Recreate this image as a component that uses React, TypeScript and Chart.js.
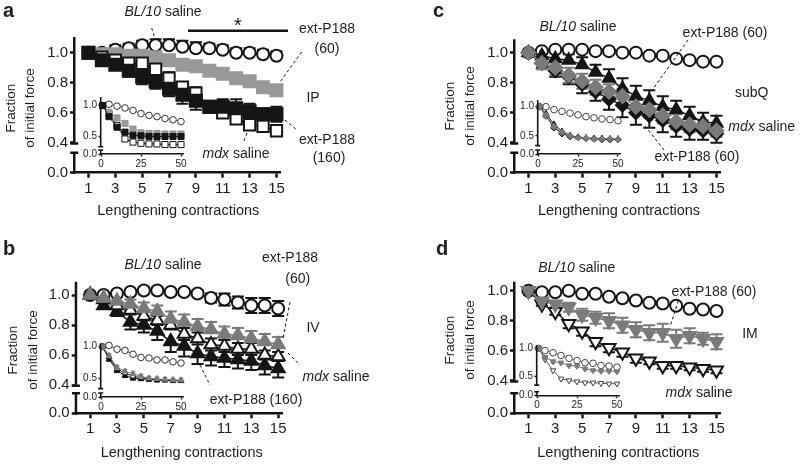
import React, { useEffect, useRef } from 'react';
import { Chart, registerables } from 'chart.js';

Chart.register(...registerables);

const FONT = '"Liberation Sans", Arial, Helvetica, sans-serif';
const INK = '#151515';
const TEXT = '#1e1e1e';

// ---------- shared axes ----------
const contractions = [1, 2, 3, 4, 5, 6, 7, 8, 9, 10, 11, 12, 13, 14, 15];
const xTickValues = [1, 3, 5, 7, 9, 11, 13, 15];
const yTickValues = [0.4, 0.6, 0.8, 1.0];
const zeroTick = [0];
const insetContractions = [1, 5, 10, 15, 20, 25, 30, 35, 40, 45, 50];
const insetXTickValues = [0, 25, 50];
const insetYTickValues = [0.5, 1.0];

// ---------- panel a (IP) ----------
const aBL10 = [1.0, 1.0, 1.02, 1.03, 1.05, 1.05, 1.05, 1.04, 1.03, 1.03, 1.02, 1.0, 1.0, 0.99, 0.98];
const aBL10Err = [0, 0.02, 0.03, 0.03, 0.03, 0.04, 0.04, 0.04, 0.04, 0.03, 0.03, 0.03, 0.03, 0.03, 0.03];
const aP60 = [1.0, 0.99, 0.99, 0.98, 0.98, 0.97, 0.95, 0.92, 0.91, 0.88, 0.86, 0.83, 0.81, 0.77, 0.75];
const aP60Err = [0, 0.01, 0.01, 0.01, 0.01, 0.01, 0.01, 0.01, 0.01, 0.01, 0.01, 0.01, 0.01, 0.01, 0.01];
const aP160 = [1.0, 0.95, 0.92, 0.88, 0.84, 0.81, 0.76, 0.72, 0.68, 0.64, 0.64, 0.63, 0.61, 0.59, 0.59];
const aP160Err = [0, 0.02, 0.03, 0.04, 0.05, 0.05, 0.05, 0.06, 0.06, 0.04, 0.05, 0.06, 0.05, 0.04, 0.05];
const aMdx = [1.0, 0.97, 0.95, 0.93, 0.93, 0.89, 0.83, 0.77, 0.73, 0.64, 0.6, 0.56, 0.52, 0.51, 0.48];
const aMdxErr = [0, 0.02, 0.02, 0.03, 0.03, 0.03, 0.04, 0.03, 0.04, 0.03, 0.03, 0.03, 0.03, 0.02, 0.02];
const iaBL10 = [1.0, 1.02, 0.99, 0.96, 0.92, 0.87, 0.84, 0.82, 0.79, 0.77, 0.74];
const iaBL10Err = [0, 0.02, 0.02, 0.02, 0.02, 0.02, 0.02, 0.02, 0.02, 0.02, 0.02];
const iaP60 = [1.0, 0.89, 0.8, 0.71, 0.62, 0.56, 0.55, 0.55, 0.54, 0.54, 0.54];
const iaP160 = [1.0, 0.82, 0.65, 0.57, 0.52, 0.51, 0.5, 0.5, 0.5, 0.5, 0.5];
const iaMdx = [1.0, 0.86, 0.68, 0.46, 0.41, 0.39, 0.38, 0.38, 0.37, 0.37, 0.37];

// ---------- panel b (IV) ----------
const bBL10 = [1.0, 1.0, 1.01, 1.02, 1.03, 1.03, 1.02, 1.02, 1.01, 0.98, 0.97, 0.95, 0.93, 0.93, 0.91];
const bBL10Err = [0, 0.01, 0.01, 0.01, 0.02, 0.02, 0.02, 0.02, 0.02, 0.03, 0.04, 0.04, 0.05, 0.05, 0.05];
const bP60 = [1.0, 0.98, 0.96, 0.94, 0.91, 0.89, 0.84, 0.82, 0.79, 0.77, 0.74, 0.73, 0.71, 0.69, 0.67];
const bP60Err = [0, 0.02, 0.03, 0.03, 0.04, 0.04, 0.05, 0.05, 0.05, 0.05, 0.05, 0.05, 0.05, 0.05, 0.05];
const bMdx = [1.0, 0.97, 0.93, 0.9, 0.86, 0.83, 0.8, 0.74, 0.71, 0.67, 0.66, 0.64, 0.64, 0.6, 0.59];
const bMdxErr = [0, 0.02, 0.02, 0.03, 0.03, 0.03, 0.03, 0.04, 0.04, 0.04, 0.04, 0.04, 0.04, 0.03, 0.03];
const bP160 = [1.0, 0.93, 0.89, 0.82, 0.8, 0.76, 0.69, 0.66, 0.61, 0.59, 0.58, 0.57, 0.56, 0.53, 0.51];
const bP160Err = [0, 0.02, 0.03, 0.05, 0.05, 0.06, 0.07, 0.07, 0.07, 0.06, 0.06, 0.06, 0.06, 0.06, 0.06];
const ibBL10 = [1.0, 1.02, 0.96, 0.94, 0.88, 0.83, 0.82, 0.79, 0.79, 0.76, 0.74];
const ibBL10Err = [0, 0.02, 0.02, 0.02, 0.02, 0.02, 0.02, 0.02, 0.02, 0.02, 0.02];
const ibP60 = [1.0, 0.86, 0.67, 0.61, 0.57, 0.53, 0.5, 0.49, 0.48, 0.47, 0.47];
const ibMdx = [1.0, 0.84, 0.65, 0.58, 0.53, 0.51, 0.49, 0.48, 0.47, 0.47, 0.46];
const ibP160 = [1.0, 0.8, 0.62, 0.54, 0.5, 0.49, 0.48, 0.47, 0.47, 0.46, 0.46];
const ibErr = [0, 0.03, 0.03, 0.03, 0.03, 0.03, 0.03, 0.03, 0.03, 0.03, 0.03];

// ---------- panel c (subQ) ----------
const cBL10 = [1.0, 1.01, 1.02, 1.02, 1.02, 1.01, 1.01, 1.0, 1.0, 0.98, 0.98, 0.96, 0.95, 0.94, 0.94];
const cP60a = [1.0, 0.98, 0.96, 0.95, 0.92, 0.87, 0.83, 0.76, 0.71, 0.68, 0.64, 0.62, 0.58, 0.54, 0.53];
const cP60aErr = [0, 0.03, 0.04, 0.04, 0.05, 0.05, 0.06, 0.07, 0.07, 0.07, 0.07, 0.06, 0.06, 0.06, 0.05];
const cP60b = [1.0, 0.93, 0.9, 0.85, 0.81, 0.77, 0.74, 0.71, 0.64, 0.62, 0.58, 0.54, 0.52, 0.51, 0.48];
const cP60bErr = [0, 0.04, 0.05, 0.05, 0.05, 0.05, 0.05, 0.05, 0.05, 0.05, 0.05, 0.05, 0.05, 0.04, 0.04];
const cMdx = [1.0, 0.93, 0.88, 0.84, 0.79, 0.74, 0.69, 0.65, 0.6, 0.58, 0.55, 0.51, 0.49, 0.48, 0.46];
const cMdxErr = [0, 0.03, 0.04, 0.05, 0.06, 0.06, 0.07, 0.08, 0.08, 0.08, 0.08, 0.07, 0.07, 0.06, 0.06];
const icBL10 = [1.0, 1.0, 0.95, 0.92, 0.89, 0.86, 0.83, 0.81, 0.79, 0.78, 0.76];
const icP60a = [1.0, 0.88, 0.7, 0.58, 0.51, 0.48, 0.47, 0.46, 0.46, 0.45, 0.45];
const icP60b = [1.0, 0.85, 0.66, 0.56, 0.5, 0.47, 0.46, 0.45, 0.45, 0.45, 0.44];
const icMdx = [1.0, 0.84, 0.64, 0.54, 0.49, 0.47, 0.46, 0.45, 0.44, 0.44, 0.44];
const icErr = [0, 0.03, 0.04, 0.03, 0.02, 0.02, 0.02, 0.02, 0.02, 0.02, 0.02];

// ---------- panel d (IM) ----------
const dBL10 = [1.0, 0.99, 0.99, 1.0, 0.98, 0.98, 0.96, 0.95, 0.935, 0.92, 0.915, 0.9, 0.88, 0.875, 0.865];
const dP60 = [1.0, 0.93, 0.91, 0.89, 0.84, 0.82, 0.8, 0.77, 0.74, 0.72, 0.72, 0.68, 0.7, 0.68, 0.66];
const dP60Err = [0, 0.01, 0.02, 0.03, 0.04, 0.04, 0.05, 0.05, 0.05, 0.05, 0.06, 0.06, 0.05, 0.04, 0.05];
const dMdx = [1.0, 0.91, 0.86, 0.78, 0.73, 0.66, 0.62, 0.59, 0.55, 0.53, 0.5, 0.5, 0.49, 0.48, 0.47];
const dMdxErr = [0, 0.01, 0.02, 0.03, 0.03, 0.03, 0.03, 0.03, 0.03, 0.02, 0.02, 0.02, 0.02, 0.02, 0.02];
const idBL10 = [1.0, 0.96, 0.92, 0.87, 0.82, 0.78, 0.74, 0.73, 0.69, 0.68, 0.66];
const idP60 = [1.0, 0.84, 0.76, 0.74, 0.69, 0.68, 0.63, 0.6, 0.59, 0.59, 0.58];
const idP60Err = [0, 0.03, 0.03, 0.02, 0.02, 0.02, 0.02, 0.02, 0.02, 0.02, 0.02];
const idMdx = [1.0, 0.8, 0.6, 0.45, 0.42, 0.4, 0.38, 0.38, 0.37, 0.36, 0.36];

// ---------- marker styles ----------
const big = (shape: string, fill: string, stroke: string, r: number, line: string, err: string, errColor: string, rot = 0) =>
  ({ shape, fill, stroke, r, bw: 2, line, lw: 1.5, err, errColor, cap: 6, ew: 2, rot });
const small = (shape: string, fill: string, stroke: string, line: string, err: string, errColor: string, rot = 0) =>
  ({ shape, fill, stroke, r: shape === 'rect' ? 4.3 : 3.3, bw: 1, line, lw: 1, err, errColor, cap: 2.5, ew: 1, rot });

const S = (xs: number[], ys: number[], errs: number[] | null, st: any) => ({ xs, ys, errs, st });

function toDataset(s: any) {
  const st = s.st;
  return {
    data: s.xs.map((x: number, i: number) => ({ x, y: s.ys[i] })),
    errs: s.errs,
    st,
    xAxisID: 'x',
    yAxisID: 'y',
    showLine: true,
    borderColor: st.line,
    borderWidth: st.lw,
    tension: 0,
    fill: false,
    pointStyle: st.shape,
    pointRotation: st.rot,
    pointRadius: st.r,
    pointHoverRadius: st.r,
    pointBackgroundColor: st.fill,
    pointBorderColor: st.stroke,
    pointBorderWidth: st.bw,
    clip: false,
  };
}

function drawErrors(chart: any) {
  const ctx = chart.ctx;
  const xs = chart.scales.x;
  const ys = chart.scales.y;
  const sets = chart.data.datasets;
  for (let di = sets.length - 1; di >= 0; di--) {
    const d = sets[di];
    const st = d.st;
    if (!d.errs || st.err === 'none') continue;
    ctx.save();
    ctx.strokeStyle = st.errColor;
    ctx.lineWidth = st.ew;
    ctx.beginPath();
    d.data.forEach((p: any, i: number) => {
      const e = d.errs[i];
      if (!e) return;
      const px = xs.getPixelForValue(p.x);
      const py = ys.getPixelForValue(p.y);
      const ends: number[] = [];
      if (st.err !== 'down') ends.push(ys.getPixelForValue(p.y + e));
      if (st.err !== 'up') ends.push(ys.getPixelForValue(p.y - e));
      for (const ey of ends) {
        ctx.moveTo(px, py);
        ctx.lineTo(px, ey);
        ctx.moveTo(px - st.cap, ey);
        ctx.lineTo(px + st.cap, ey);
      }
    });
    ctx.stroke();
    ctx.restore();
  }
}

function drawDecor(chart: any, p: any, k: any, ox: number, oy: number) {
  const ctx = chart.ctx;
  const area = chart.chartArea;
  const yT = chart.scales.y;
  ctx.save();
  ctx.strokeStyle = INK;
  ctx.lineWidth = k.axisW;
  ctx.lineCap = 'butt';
  const ax = area.left - k.axisW / 2 + 0.5;
  const upBot = yT.getPixelForValue(k.breakUpper);
  const loTop = area.bottom - k.lowSegPx;
  ctx.beginPath();
  ctx.moveTo(ax, area.top);
  ctx.lineTo(ax, upBot);
  ctx.moveTo(ax - k.capHalf, upBot);
  ctx.lineTo(ax + k.capHalf, upBot);
  ctx.moveTo(ax, loTop);
  ctx.lineTo(ax, area.bottom + k.axisW / 2);
  ctx.moveTo(ax - k.capHalf, loTop);
  ctx.lineTo(ax + k.capHalf, loTop);
  ctx.stroke();
  ctx.restore();

  for (const sg of p.segs || []) {
    ctx.save();
    ctx.strokeStyle = INK;
    ctx.lineWidth = sg.w || 1;
    if (sg.dash) ctx.setLineDash([3, 2.5]);
    ctx.beginPath();
    ctx.moveTo(sg.x1 - ox, sg.y1 - oy);
    ctx.lineTo(sg.x2 - ox, sg.y2 - oy);
    ctx.stroke();
    ctx.restore();
  }
  for (const t of p.texts || []) {
    ctx.save();
    ctx.fillStyle = TEXT;
    const size = t.size || 14;
    const fontOf = (it: boolean) => `${it ? 'italic ' : ''}${t.bold ? 'bold ' : ''}${size}px ${FONT}`;
    let total = 0;
    const widths = t.parts.map((pt: any) => {
      ctx.font = fontOf(!!pt[1]);
      const w = ctx.measureText(pt[0]).width;
      total += w;
      return w;
    });
    ctx.textBaseline = t.base || 'middle';
    ctx.textAlign = 'left';
    ctx.translate(t.x - ox, t.y - oy);
    if (t.rot) ctx.rotate(-Math.PI / 2);
    let cx = t.align === 'left' ? 0 : -total / 2;
    t.parts.forEach((pt: any, i: number) => {
      ctx.font = fontOf(!!pt[1]);
      ctx.fillText(pt[0], cx, 0);
      cx += widths[i];
    });
    ctx.restore();
  }
}

const MAIN_KIND = {
  yW: 45, xH: 22, font: 15, tickLen: 5, tickW: 2.5, axisW: 2.5, tickPad: 2,
  xMax: 15.3, xTicks: xTickValues, yTicks: yTickValues, topMin: 0.38, breakUpper: 0.395,
  lowSegPx: 20, capHalf: 4, ppu: 150,
};
const INSET_KIND = {
  yW: 35, xH: 18, font: 10, tickLen: 2.5, tickW: 1.5, axisW: 1.6, tickPad: 1.5,
  xMax: 51.5, xTicks: insetXTickValues, yTicks: insetYTickValues, topMin: 0.33, breakUpper: 0.335,
  lowSegPx: 4, capHalf: 2.5, ppu: 60,
};

function buildChart(canvas: HTMLCanvasElement, p: any, k: any, box: any) {
  const W = box.width;
  const H = box.height;
  const ox = box.left;
  const oy = box.top;
  const left = p.area.left - ox;
  const top = p.area.top - oy;
  const right = p.area.right - ox;
  const bottom = p.area.bottom - oy;
  const ppu = p.ppu || k.ppu;
  const topRange = p.yMax - k.topMin;
  const lowRange = (bottom - top) / ppu - topRange;
  const zero = (s: any) => {
    s.paddingLeft = 0;
    s.paddingRight = 0;
    s.paddingTop = 0;
    s.paddingBottom = 0;
  };
  const tickFont = { family: FONT, size: k.font };
  const yCommon = {
    type: 'linear',
    position: 'left',
    stack: 'left',
    border: { display: false },
    grid: { display: true, drawOnChartArea: false, drawTicks: true, tickLength: k.tickLen, tickWidth: k.tickW, tickColor: INK },
    ticks: { font: tickFont, color: TEXT, padding: k.tickPad, autoSkip: false, callback: (v: number) => v.toFixed(1) },
  };
  return new Chart(canvas, {
    type: 'line',
    data: { datasets: p.series.map(toDataset) },
    options: {
      responsive: false,
      animation: false,
      devicePixelRatio: 1,
      events: [],
      layout: { padding: { left: left - k.yW, top, right: W - right, bottom: H - bottom - k.xH } },
      plugins: { legend: { display: false }, tooltip: { enabled: false }, title: { display: false } },
      scales: {
        x: {
          type: 'linear',
          position: 'bottom',
          min: 0,
          max: k.xMax,
          afterBuildTicks: (s: any) => { s.ticks = k.xTicks.map((v: number) => ({ value: v })); },
          afterFit: (s: any) => { s.height = k.xH; zero(s); },
          border: { display: true, width: k.axisW, color: INK },
          grid: { display: true, drawOnChartArea: false, drawTicks: true, tickLength: k.tickLen, tickWidth: k.tickW, tickColor: INK },
          ticks: { font: tickFont, color: TEXT, padding: k.tickPad, maxRotation: 0, autoSkip: false, callback: (v: number) => String(v) },
        },
        yLow: {
          ...yCommon,
          stackWeight: lowRange,
          min: 0,
          max: lowRange,
          afterBuildTicks: (s: any) => { s.ticks = zeroTick.map((v) => ({ value: v })); },
          afterFit: (s: any) => { s.width = k.yW; zero(s); },
        },
        y: {
          ...yCommon,
          stackWeight: topRange,
          min: k.topMin,
          max: p.yMax,
          afterBuildTicks: (s: any) => { s.ticks = k.yTicks.map((v: number) => ({ value: v })); },
          afterFit: (s: any) => { s.width = k.yW; zero(s); },
        },
      },
    } as any,
    plugins: [
      {
        id: 'decor',
        beforeDatasetsDraw: (chart: any) => drawErrors(chart),
        afterDraw: (chart: any) => drawDecor(chart, p, k, ox, oy),
      },
    ],
  } as any);
}

// ---------- styles per series ----------
const stCircle = big('circle', '#ffffff', INK, 6, INK, 'up', INK);
const stCircleBoth = big('circle', '#ffffff', INK, 6, INK, 'both', INK);
const stCircleNone = big('circle', '#ffffff', INK, 6, INK, 'none', INK);

const txt = (x: number, y: number, parts: any[], o: any = {}) => ({ x, y, parts, ...o });
const dash = (x1: number, y1: number, x2: number, y2: number) => ({ x1, y1, x2, y2, dash: true });
const yTitles = (x1: number, x2: number, y: number, tx: number, ty: number) => [
  txt(x1, y, [['Fraction']], { rot: true, size: 13.5 }),
  txt(x2, y, [['of initial force']], { rot: true, size: 13.5 }),
  txt(tx, ty, [['Lengthening contractions']], { size: 14.5 }),
];

const panels: any[] = [
  {
    key: 'a',
    box: { left: 0, top: 0, width: 400, height: 230 },
    area: { left: 75, top: 37, right: 280.5, bottom: 172.7 },
    yMax: 1.105,
    series: [
      S(contractions, aP160, aP160Err, big('rect', INK, INK, 8.5, INK, 'both', INK)),
      S(contractions, aMdx, aMdxErr, big('rect', '#ffffff', INK, 8, INK, 'both', INK)),
      S(contractions, aP60, aP60Err, big('rect', '#999999', '#999999', 8.5, '#999999', 'both', '#999999')),
      S(contractions, aBL10, aBL10Err, stCircle),
    ],
    texts: [
      txt(3, 17, [['a']], { bold: true, size: 20, align: 'left', base: 'alphabetic' }),
      txt(163, 12, [['BL/10', true], [' saline']]),
      txt(238, 32, [['*']], { size: 20, base: 'alphabetic' }),
      txt(327, 29, [['ext-P188']]),
      txt(327, 49, [['(60)']]),
      txt(313, 98, [['IP']]),
      txt(327, 140, [['ext-P188']]),
      txt(329, 158, [['(160)']]),
      txt(236, 154, [['mdx', true], [' saline']]),
      ...yTitles(11.7, 30, 108, 178.3, 210.7),
    ],
    segs: [
      dash(151.7, 28, 154, 36),
      dash(301.7, 52, 280, 82),
      dash(285, 120, 297, 130),
      dash(247, 133, 243, 143),
      { x1: 188, y1: 30.7, x2: 288, y2: 30.7, w: 2.5 },
    ],
    inset: {
      area: { left: 101, top: 97, right: 183.4, bottom: 154 },
      yMax: 1.137,
      ppu: 62,
      series: [
        S(insetContractions, iaP160, null, small('rect', INK, INK, INK, 'none', INK)),
        S(insetContractions, iaP60, null, small('rect', '#999999', '#999999', '#999999', 'none', '#999999')),
        S(insetContractions, iaMdx, null, small('rect', '#ffffff', INK, INK, 'none', INK)),
        S(insetContractions, iaBL10, iaBL10Err, small('circle', '#ffffff', '#333333', '#666666', 'both', '#888888')),
      ],
    },
  },
  {
    key: 'c',
    box: { left: 400, top: 0, width: 400, height: 230 },
    area: { left: 515, top: 39.3, right: 720.5, bottom: 172.7 },
    yMax: 1.089,
    series: [
      S(contractions, cP60b, cP60bErr, big('rectRot', '#7a7a7a', '#7a7a7a', 7, '#7a7a7a', 'both', '#7a7a7a')),
      S(contractions, cP60a, cP60aErr, big('triangle', INK, INK, 7, INK, 'up', INK)),
      S(contractions, cMdx, cMdxErr, big('rectRot', INK, INK, 6.5, INK, 'down', INK)),
      S(contractions, cBL10, null, stCircleNone),
    ],
    texts: [
      txt(433, 17, [['c']], { bold: true, size: 20, align: 'left', base: 'alphabetic' }),
      txt(578, 26.7, [['BL/10', true], [' saline']]),
      txt(725, 32.7, [['ext-P188 (60)']]),
      txt(751.7, 93.3, [['subQ']]),
      txt(761.7, 126.7, [['mdx', true], [' saline']]),
      txt(697, 156.7, [['ext-P188 (60)']]),
      ...yTitles(450, 470, 106, 619, 210.7),
    ],
    segs: [dash(688, 40, 653, 89), dash(645, 126, 664, 150)],
    inset: {
      area: { left: 538, top: 100, right: 620.4, bottom: 154 },
      yMax: 1.114,
      ppu: 58.6,
      series: [
        S(insetContractions, icP60b, icErr, small('rectRot', '#7a7a7a', '#7a7a7a', '#7a7a7a', 'both', '#7a7a7a')),
        S(insetContractions, icP60a, null, small('triangle', INK, INK, INK, 'none', INK)),
        S(insetContractions, icMdx, null, small('rectRot', INK, INK, INK, 'none', INK)),
        S(insetContractions, icBL10, null, small('circle', '#ffffff', '#444444', '#777777', 'none', '#777777')),
      ],
    },
  },
  {
    key: 'b',
    box: { left: 0, top: 230, width: 400, height: 235 },
    area: { left: 76.7, top: 281.7, right: 282.2, bottom: 413.3 },
    yMax: 1.089,
    series: [
      S(contractions, bP60, bP60Err, big('triangle', '#7a7a7a', '#7a7a7a', 7.5, '#7a7a7a', 'up', '#7a7a7a')),
      S(contractions, bMdx, bMdxErr, big('triangle', '#ffffff', INK, 7.5, INK, 'both', INK)),
      S(contractions, bP160, bP160Err, big('triangle', INK, INK, 7.5, INK, 'down', INK)),
      S(contractions, bBL10, bBL10Err, stCircleBoth),
    ],
    texts: [
      txt(3, 255, [['b']], { bold: true, size: 20, align: 'left', base: 'alphabetic' }),
      txt(163, 265, [['BL/10', true], [' saline']]),
      txt(290, 258, [['ext-P188']]),
      txt(297.7, 279.3, [['(60)']]),
      txt(313, 328, [['IV']]),
      txt(336, 376.7, [['mdx', true], [' saline']]),
      txt(256, 400, [['ext-P188 (160)']]),
      ...yTitles(13, 33, 350, 181.7, 452.7),
    ],
    segs: [dash(290, 302, 283.3, 337), dash(288, 353, 300, 365), dash(200, 365, 210, 385)],
    inset: {
      area: { left: 101, top: 343.3, right: 183.4, bottom: 397 },
      yMax: 1.054,
      ppu: 63,
      series: [
        S(insetContractions, ibP60, ibErr, small('triangle', '#7a7a7a', '#7a7a7a', '#7a7a7a', 'up', '#7a7a7a')),
        S(insetContractions, ibMdx, null, small('triangle', '#ffffff', INK, INK, 'none', INK)),
        S(insetContractions, ibP160, ibErr, small('triangle', INK, INK, INK, 'down', INK)),
        S(insetContractions, ibBL10, ibBL10Err, small('circle', '#ffffff', '#333333', '#666666', 'both', '#888888')),
      ],
    },
  },
  {
    key: 'd',
    box: { left: 400, top: 230, width: 400, height: 235 },
    area: { left: 515, top: 281.7, right: 720.5, bottom: 413.3 },
    yMax: 1.06,
    series: [
      S(contractions, dP60, dP60Err, big('triangle', '#7a7a7a', '#7a7a7a', 7.5, '#7a7a7a', 'both', '#7a7a7a', 180)),
      S(contractions, dMdx, dMdxErr, big('triangle', '#ffffff', INK, 7.5, INK, 'down', INK, 180)),
      S(contractions, dBL10, null, stCircleNone),
    ],
    texts: [
      txt(436, 255, [['d']], { bold: true, size: 20, align: 'left', base: 'alphabetic' }),
      txt(576.7, 268.3, [['BL/10', true], [' saline']]),
      txt(714, 291.7, [['ext-P188 (60)']]),
      txt(750, 334, [['IM']]),
      txt(699, 393.3, [['mdx', true], [' saline']]),
      ...yTitles(450, 470, 340, 618.3, 452.7),
    ],
    segs: [dash(678.3, 300.7, 670, 326.7)],
    inset: {
      area: { left: 537, top: 345, right: 619.4, bottom: 395.7 },
      yMax: 1.06,
      ppu: 55.4,
      series: [
        S(insetContractions, idP60, idP60Err, small('triangle', '#7a7a7a', '#7a7a7a', '#7a7a7a', 'both', '#7a7a7a', 180)),
        S(insetContractions, idMdx, null, small('triangle', '#ffffff', '#444444', '#555555', 'none', INK, 180)),
        S(insetContractions, idBL10, null, small('circle', '#ffffff', '#444444', '#666666', 'none', INK)),
      ],
    },
  },
];

function insetBox(a: any) {
  const left = Math.floor(a.left - INSET_KIND.yW);
  const top = Math.floor(a.top - 6);
  const width = Math.ceil(a.right + 8 - left);
  const height = Math.ceil(a.bottom + INSET_KIND.xH - top);
  return { left, top, width, height };
}

function ChartCanvas({ box, build }: { box: any; build: (c: HTMLCanvasElement) => Chart }) {
  const ref = useRef<HTMLCanvasElement>(null);
  useEffect(() => {
    const chart = build(ref.current as HTMLCanvasElement);
    return () => chart.destroy();
  }, []);
  return (
    <canvas
      ref={ref}
      width={box.width}
      height={box.height}
      style={{ position: 'absolute', left: box.left, top: box.top, width: box.width, height: box.height }}
    />
  );
}

export default function App() {
  return (
    <div style={{ position: 'absolute', left: 0, top: 0, width: 800, height: 465, background: '#ffffff', overflow: 'hidden' }}>
      {panels.map((p) => (
        <ChartCanvas key={p.key} box={p.box} build={(c) => buildChart(c, p, MAIN_KIND, p.box)} />
      ))}
      {panels.map((p) => {
        const ib = insetBox(p.inset.area);
        return <ChartCanvas key={p.key + '-inset'} box={ib} build={(c) => buildChart(c, p.inset, INSET_KIND, ib)} />;
      })}
    </div>
  );
}
